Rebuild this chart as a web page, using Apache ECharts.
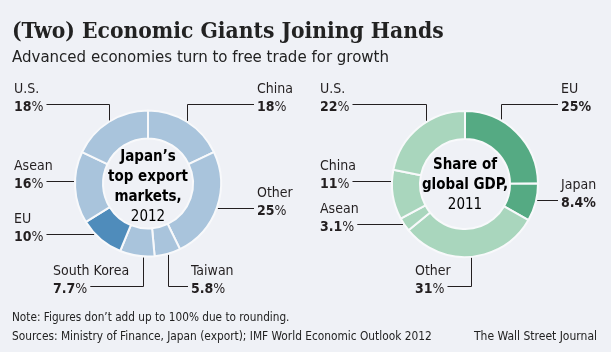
<!DOCTYPE html>
<html>
<head>
<meta charset="utf-8">
<title>(Two) Economic Giants Joining Hands</title>
<script src="https://cdn.jsdelivr.net/npm/echarts@6/dist/echarts.min.js"></script>
<style>
  html, body { margin: 0; padding: 0; background: #eff1f6; }
  #chart { width: 611px; height: 352px; }
</style>
</head>
<body>
<div id="chart"></div>
<script>
// Japan's top export markets, 2012 (clockwise from 12 o'clock)
const exportMarkets = ['China', 'Other', 'Taiwan', 'South Korea', 'EU', 'Asean', 'U.S.']
const exportShares = [18, 25, 5.8, 7.7, 10, 16, 18]
// Share of global GDP, 2011 (clockwise from 12 o'clock)
const gdpRegions = ['EU', 'Japan', 'Other', 'Asean', 'China', 'U.S.']
const gdpShares = [25, 8.4, 31, 3.1, 11, 22]

const FONT = '"DejaVu Sans Condensed", "Liberation Sans Narrow", sans-serif'
const SERIF = '"DejaVu Serif Condensed", "DejaVu Serif", serif'
const INK = '#231f20'

const exportColors = ['#a9c4dc', '#a9c4dc', '#a9c4dc', '#a9c4dc', '#4f8cbb', '#a9c4dc', '#a9c4dc']
const gdpColors = ['#55aa83', '#55aa83', '#a9d6bd', '#a9d6bd', '#a9d6bd', '#a9d6bd']
const gdpBold = ['EU', 'Japan']

// where each label sits: x of text, y of the name's cap top, side of the leader,
// how the leader bends, and where along its slice a vertical leader leaves the ring (0..1)
const exportLabelPos = {
  'U.S.': { x: 14, cap: 83, side: 'left', bend: 'v', at: 0.5 },
  'China': { x: 257, cap: 83, side: 'right', bend: 'v', at: 0.5 },
  'Asean': { x: 14, cap: 160, side: 'left', bend: 'h' },
  'Other': { x: 257, cap: 187, side: 'right', bend: 'h' },
  'EU': { x: 14, cap: 213, side: 'left', bend: 'h' },
  'South Korea': { x: 53, cap: 265, side: 'left', bend: 'v', at: 0.33 },
  'Taiwan': { x: 191, cap: 265, side: 'right', bend: 'v', at: 0.5 }
}
const gdpLabelPos = {
  'U.S.': { x: 320, cap: 83, side: 'left', bend: 'v', at: 0.6 },
  'EU': { x: 561, cap: 83, side: 'right', bend: 'v', at: 0.33 },
  'China': { x: 320, cap: 160, side: 'left', bend: 'h' },
  'Japan': { x: 561, cap: 179, side: 'right', bend: 'h' },
  'Asean': { x: 320, cap: 203, side: 'left', bend: 'h' },
  'Other': { x: 415, cap: 265, side: 'left', bend: 'v', at: 0.5 }
}

const ctx = document.createElement('canvas').getContext('2d')
function textWidth(str, weight) {
  ctx.font = weight + ' 14px ' + FONT
  return ctx.measureText(str).width
}

const rich = {
  n: { fontFamily: FONT, fontSize: 14, color: INK, lineHeight: 18 },
  v: { fontFamily: FONT, fontSize: 14, color: INK, lineHeight: 18, fontWeight: 'bold' },
  p: { fontFamily: FONT, fontSize: 14, color: INK, lineHeight: 18 },
  pb: { fontFamily: FONT, fontSize: 14, color: INK, lineHeight: 18, fontWeight: 'bold' }
}

const OUTER = 74
const crisp = (v) => Math.round(v) + 0.5

function makeLayout(names, values, posMap, center, boldNames) {
  const total = values.reduce((s, v) => s + v, 0)
  return function (params) {
    const i = params.dataIndex
    const name = names[i]
    const pos = posMap[name]
    const lineY = crisp(pos.cap + 21)
    const bold = boldNames.indexOf(name) >= 0
    const valW = textWidth(String(values[i]), 'bold') + textWidth('%', bold ? 'bold' : 'normal')
    const textEdge = pos.side === 'left' ? pos.x + valW + 3 : pos.x - 3
    let pts
    if (pos.bend === 'v') {
      let before = 0
      for (let k = 0; k < i; k++) before += values[k]
      const ang = (before + pos.at * values[i]) / total * Math.PI * 2
      const ax = crisp(center[0] + OUTER * Math.sin(ang))
      const ay = center[1] - OUTER * Math.cos(ang)
      pts = [[ax, ay], [ax, lineY], [textEdge, lineY]]
    } else {
      const dy = lineY - center[1]
      const dx = Math.sqrt(Math.max(OUTER * OUTER - dy * dy, 0))
      const ex = pos.side === 'left' ? center[0] - dx : center[0] + dx
      pts = [[ex, lineY], [ex, lineY], [textEdge, lineY]]
    }
    return { x: pos.x, y: pos.cap - 3, align: 'left', verticalAlign: 'top', labelLinePoints: pts }
  }
}

function donut(names, values, colors, posMap, center, boldNames) {
  return {
    type: 'pie',
    center: center,
    radius: [45, 73],
    startAngle: 90,
    clockwise: true,
    avoidLabelOverlap: false,
    silent: true,
    itemStyle: { borderColor: '#f8f9fb', borderWidth: 2 },
    label: {
      show: true,
      position: 'outside',
      alignTo: 'none',
      formatter: (p) => {
        const b = boldNames.indexOf(p.name) >= 0
        return '{n|' + p.name + '}\n{v|' + p.value + '}{' + (b ? 'pb' : 'p') + '|%}'
      },
      rich: rich
    },
    labelLine: { show: true, length: 10, length2: 10, lineStyle: { color: INK, width: 1 } },
    labelLayout: makeLayout(names, values, posMap, center, boldNames),
    emphasis: { disabled: true },
    data: names.map((n, i) => ({ name: n, value: values[i], itemStyle: { color: colors[i] } }))
  }
}

const chart = echarts.init(document.getElementById('chart'), null, { renderer: 'canvas' })

const centerRich = {
  b: { fontFamily: FONT, fontSize: 15, fontWeight: 'bold', color: INK, lineHeight: 20 },
  y: { fontFamily: FONT, fontSize: 15, color: INK, lineHeight: 20 }
}

chart.setOption({
  backgroundColor: '#eff1f6',
  animation: false,
  graphic: [
    {
      type: 'text', x: 12, y: 32,
      style: { text: '(Two) Economic Giants Joining Hands', fill: '#222', font: 'bold 22.6px ' + SERIF, verticalAlign: 'middle' }
    },
    {
      type: 'text', x: 12, y: 58,
      style: { text: 'Advanced economies turn to free trade for growth', fill: '#222', font: '16.7px ' + FONT, verticalAlign: 'middle' }
    },
    {
      type: 'text', x: 148, y: 187,
      style: { text: '{b|Japan’s}\n{b|top export}\n{b|markets,}\n{y|2012}', rich: centerRich, align: 'center', verticalAlign: 'middle' }
    },
    {
      type: 'text', x: 465, y: 185,
      style: { text: '{b|Share of}\n{b|global GDP,}\n{y|2011}', rich: centerRich, align: 'center', verticalAlign: 'middle' }
    },
    {
      type: 'text', x: 12, y: 318,
      style: { text: 'Note: Figures don’t add up to 100% due to rounding.', fill: '#222', font: '11.7px ' + FONT, verticalAlign: 'middle' }
    },
    {
      type: 'text', x: 12, y: 337,
      style: { text: 'Sources: Ministry of Finance, Japan (export); IMF World Economic Outlook 2012', fill: '#222', font: '11.8px ' + FONT, verticalAlign: 'middle' }
    },
    {
      type: 'text', x: 597, y: 337,
      style: { text: 'The Wall Street Journal', fill: '#222', font: '12px ' + FONT, align: 'right', verticalAlign: 'middle' }
    }
  ],
  series: [
    donut(exportMarkets, exportShares, exportColors, exportLabelPos, [148, 183.5], []),
    donut(gdpRegions, gdpShares, gdpColors, gdpLabelPos, [465, 184], gdpBold)
  ]
})
</script>
</body>
</html>
